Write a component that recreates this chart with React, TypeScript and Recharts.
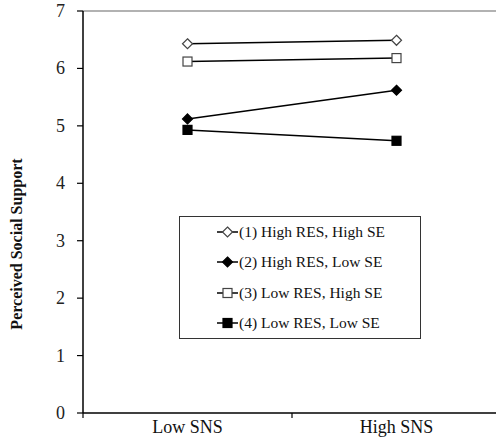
import { LineChart, Line, XAxis, YAxis, ReferenceLine } from "recharts";

// Perceived social support by SNS level, four RES x SE groups.

const categories = ["Low SNS", "High SNS"];
const highResHighSe = [6.43, 6.49];
const highResLowSe = [5.12, 5.62];
const lowResHighSe = [6.12, 6.18];
const lowResLowSe = [4.93, 4.74];
const yTicks = [0, 1, 2, 3, 4, 5, 6, 7];

const SERIES = [
  { key: "s1", name: "(1) High RES, High SE", shape: "diamond", filled: false },
  { key: "s2", name: "(2) High RES, Low SE", shape: "diamond", filled: true },
  { key: "s3", name: "(3) Low RES, High SE", shape: "square", filled: false },
  { key: "s4", name: "(4) Low RES, Low SE", shape: "square", filled: true },
];

const FONT = '"Liberation Serif", "Times New Roman", serif';
const AXIS_Y = 413;

const data = categories.map((c, i) => ({
  x: i + 0.5,
  label: c,
  s1: highResHighSe[i],
  s2: highResLowSe[i],
  s3: lowResHighSe[i],
  s4: lowResLowSe[i],
}));

function Marker({ cx, cy, shape, filled }: any) {
  if (cx == null || cy == null) return null;
  const fill = filled ? "#000" : "#fff";
  const stroke = filled ? "#000" : "#444";
  if (shape === "diamond") {
    return (
      <path
        d={`M${cx},${cy - 5}L${cx + 5},${cy}L${cx},${cy + 5}L${cx - 5},${cy}Z`}
        fill={fill}
        stroke={stroke}
        strokeWidth={1.2}
      />
    );
  }
  return (
    <rect x={cx - 4.5} y={cy - 4.5} width={9} height={9} fill={fill} stroke={stroke} strokeWidth={1.2} />
  );
}

function XTick({ x, y, payload }: any) {
  const v = payload.value;
  if (Number.isInteger(v)) {
    return <line x1={x} x2={x} y1={y} y2={y + 5} stroke="#000" strokeWidth={1.2} />;
  }
  const idx = Math.floor(v);
  return (
    <text x={x} y={y + 20} textAnchor="middle" fontFamily={FONT} fontSize={18} fill="#111">
      {categories[idx]}
    </text>
  );
}

function YTick({ x, y, payload }: any) {
  return (
    <text x={x} y={y + 6} textAnchor="end" fontFamily={FONT} fontSize={18} fill="#222">
      {payload.value}
    </text>
  );
}

function YLabel() {
  return (
    <text
      x={0}
      y={0}
      transform="translate(22, 244) rotate(-90)"
      textAnchor="middle"
      fontFamily={FONT}
      fontSize={16}
      fontWeight="bold"
      fill="#111"
    >
      Perceived Social Support
    </text>
  );
}

function LegendBox() {
  return (
    <div
      style={{
        position: "absolute",
        left: 179,
        top: 216,
        border: "1px solid #333",
        width: 240,
        height: 121,
        background: "#fff",
        fontFamily: FONT,
        fontSize: 15.5,
        color: "#111",
        display: "flex",
        flexDirection: "column",
        justifyContent: "space-around",
      }}
    >
      {SERIES.map((s) => (
        <div key={s.key} style={{ display: "flex", alignItems: "center", paddingLeft: 37 }}>
          <svg width={21} height={12} style={{ marginRight: 1 }}>
            <line x1={0} x2={21} y1={6} y2={6} stroke="#000" strokeWidth={1.5} />
            <Marker cx={10.5} cy={6} shape={s.shape} filled={s.filled} />
          </svg>
          <span>{s.name}</span>
        </div>
      ))}
    </div>
  );
}

export default function App() {
  return (
    <div
      style={{
        position: "absolute",
        left: 0,
        top: 0,
        width: 496,
        height: 445,
        overflow: "hidden",
        background: "#fff",
        fontFamily: FONT,
      }}
    >
      <LineChart width={501} height={445} data={data} margin={{ top: 11, right: 0, bottom: 0, left: 0 }}>
        <XAxis
          dataKey="x"
          type="number"
          domain={[0, 2]}
          ticks={[0, 0.5, 1, 1.5, 2]}
          tickLine={false}
          tickSize={0}
          tickMargin={0}
          height={445 - AXIS_Y}
          tick={<XTick />}
          axisLine={{ stroke: "#000", strokeWidth: 1.5 }}
          interval={0}
        />
        <YAxis
          type="number"
          domain={[0, 7]}
          ticks={yTicks}
          width={83}
          interval={0}
          tickSize={6}
          tickMargin={12}
          tickLine={{ stroke: "#000", strokeWidth: 1.2 }}
          axisLine={{ stroke: "#000", strokeWidth: 1.5 }}
          tick={<YTick />}
          label={<YLabel />}
        />
        <ReferenceLine y={7} stroke="#999" strokeWidth={1.5} />
        {SERIES.map((s) => (
          <Line
            key={s.key}
            dataKey={s.key}
            name={s.name}
            stroke="#000"
            strokeWidth={1.5}
            isAnimationActive={false}
            dot={(p: any) => <Marker key={`${s.key}-${p.index}`} cx={p.cx} cy={p.cy} shape={s.shape} filled={s.filled} />}
            activeDot={false}
          />
        ))}
      </LineChart>
      <LegendBox />
    </div>
  );
}
